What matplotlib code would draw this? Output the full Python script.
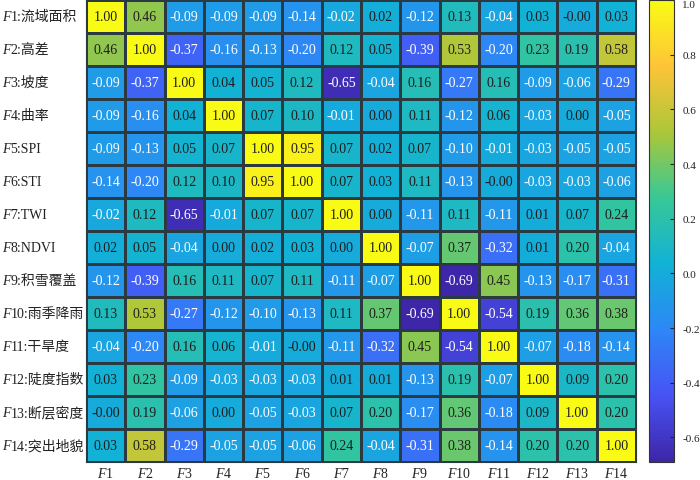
import numpy as np
import matplotlib
matplotlib.use("Agg")
import matplotlib.pyplot as plt
from matplotlib.colors import LinearSegmentedColormap
from matplotlib.ticker import FormatStrFormatter
from matplotlib.transforms import blended_transform_factory

plt.rcParams['font.family'] = ['Liberation Serif', 'Noto Sans CJK SC']
plt.rcParams['mathtext.fontset'] = 'custom'
plt.rcParams['mathtext.it'] = 'Liberation Serif:italic'
plt.rcParams['mathtext.rm'] = 'Liberation Serif'

# ---- data ----
factor_ids = ["1", "2", "3", "4", "5", "6", "7", "8", "9", "10", "11", "12", "13", "14"]
factor_names = ["流域面积", "高差", "坡度", "曲率", "SPI", "STI", "TWI", "NDVI",
                "积雪覆盖", "雨季降雨", "干旱度", "陡度指数", "断层密度", "突出地貌"]

r_F1 = [1.00, 0.46, -0.09, -0.09, -0.09, -0.14, -0.02, 0.02, -0.12, 0.13, -0.04, 0.03, -0.0, 0.03]
r_F2 = [0.46, 1.00, -0.37, -0.16, -0.13, -0.20, 0.12, 0.05, -0.39, 0.53, -0.20, 0.23, 0.19, 0.58]
r_F3 = [-0.09, -0.37, 1.00, 0.04, 0.05, 0.12, -0.65, -0.04, 0.16, -0.27, 0.16, -0.09, -0.06, -0.29]
r_F4 = [-0.09, -0.16, 0.04, 1.00, 0.07, 0.10, -0.01, 0.00, 0.11, -0.12, 0.06, -0.03, 0.00, -0.05]
r_F5 = [-0.09, -0.13, 0.05, 0.07, 1.00, 0.95, 0.07, 0.02, 0.07, -0.10, -0.01, -0.03, -0.05, -0.05]
r_F6 = [-0.14, -0.20, 0.12, 0.10, 0.95, 1.00, 0.07, 0.03, 0.11, -0.13, -0.0, -0.03, -0.03, -0.06]
r_F7 = [-0.02, 0.12, -0.65, -0.01, 0.07, 0.07, 1.00, 0.00, -0.11, 0.11, -0.11, 0.01, 0.07, 0.24]
r_F8 = [0.02, 0.05, -0.04, 0.00, 0.02, 0.03, 0.00, 1.00, -0.07, 0.37, -0.32, 0.01, 0.20, -0.04]
r_F9 = [-0.12, -0.39, 0.16, 0.11, 0.07, 0.11, -0.11, -0.07, 1.00, -0.69, 0.45, -0.13, -0.17, -0.31]
r_F10 = [0.13, 0.53, -0.27, -0.12, -0.10, -0.13, 0.11, 0.37, -0.69, 1.00, -0.54, 0.19, 0.36, 0.38]
r_F11 = [-0.04, -0.20, 0.16, 0.06, -0.01, -0.0, -0.11, -0.32, 0.45, -0.54, 1.00, -0.07, -0.18, -0.14]
r_F12 = [0.03, 0.23, -0.09, -0.03, -0.03, -0.03, 0.01, 0.01, -0.13, 0.19, -0.07, 1.00, 0.09, 0.20]
r_F13 = [-0.0, 0.19, -0.06, 0.00, -0.05, -0.03, 0.07, 0.20, -0.17, 0.36, -0.18, 0.09, 1.00, 0.20]
r_F14 = [0.03, 0.58, -0.29, -0.05, -0.05, -0.06, 0.24, -0.04, -0.31, 0.38, -0.14, 0.20, 0.20, 1.00]

rows = [r_F1, r_F2, r_F3, r_F4, r_F5, r_F6, r_F7, r_F8, r_F9, r_F10, r_F11, r_F12, r_F13, r_F14]
cbar_ticks = [-0.6, -0.4, -0.2, 0.0, 0.2, 0.4, 0.6, 0.8, 1.0]

# ---- parula-like colormap ----
parula_pts = [
    (0.2422, 0.1504, 0.6603),
    (0.2810, 0.3228, 0.9579),
    (0.1786, 0.5289, 0.9682),
    (0.0689, 0.6948, 0.8394),
    (0.2161, 0.7843, 0.5923),
    (0.6720, 0.7793, 0.2227),
    (0.9970, 0.7659, 0.2199),
    (0.9769, 0.9839, 0.0805),
]
parula = LinearSegmentedColormap.from_list("parula", parula_pts, N=256)

M = np.array(rows)
n = M.shape[0]
vmin, vmax = M.min(), M.max()

W, H = 700, 481
fig = plt.figure(figsize=(W / 100, H / 100), dpi=100)
ax = fig.add_axes([86 / W, 1 - 463 / H, 550 / W, 462 / H])
cax = fig.add_axes([649 / W, 1 - 463 / H, 25 / W, 462 / H])

mesh = ax.pcolormesh(np.arange(n + 1), np.arange(n + 1), M, cmap=parula,
                     vmin=vmin, vmax=vmax, edgecolor='#2b3a40', linewidth=0.8)
ax.set_xlim(0, n)
ax.set_ylim(n, 0)
for s in ax.spines.values():
    s.set_color('#2b3a40')
    s.set_linewidth(0.8)

for i in range(n):
    for j in range(n):
        v = M[i, j]
        col = 'white' if v < 0 else '#1e1e1e'
        ax.text(j + 0.5, i + 0.5, f"{v:.2f}", ha='center', va='center',
                fontsize=10, color=col)

# x tick labels
ax.set_xticks(np.arange(n) + 0.5)
ax.set_xticklabels([r"$F$" + k for k in factor_ids], fontsize=10, color='#222222')
ax.tick_params(axis='x', length=0, pad=3)

# y tick labels (manual, italic F + rest)
ax.set_yticks([])
tr = blended_transform_factory(fig.transFigure, ax.transData)
for i in range(n):
    ft = ax.text(2 / W, i + 0.5, "F", transform=tr, ha='left', va='center',
                 fontsize=10, style='italic', family='Liberation Serif', color='#222222')
    ax.annotate(factor_ids[i] + ":" + factor_names[i], xy=(1, 0.5), xycoords=ft,
                ha='left', va='center', fontsize=10, color='#222222',
                family=['Liberation Serif', 'Noto Sans CJK SC'])

cb = fig.colorbar(mesh, cax=cax)
cb.set_ticks(cbar_ticks)
cb.ax.yaxis.set_major_formatter(FormatStrFormatter('%.1f'))
cb.ax.tick_params(direction='in', length=3, width=0.8, labelsize=8, pad=6,
                  colors='#222222')
cb.outline.set_edgecolor('#333333')
cb.outline.set_linewidth(0.8)
fig.canvas.draw()
labels = cb.ax.get_yticklabels()
labels[-1].set_verticalalignment('top')

fig.savefig("out.png", dpi=100)
